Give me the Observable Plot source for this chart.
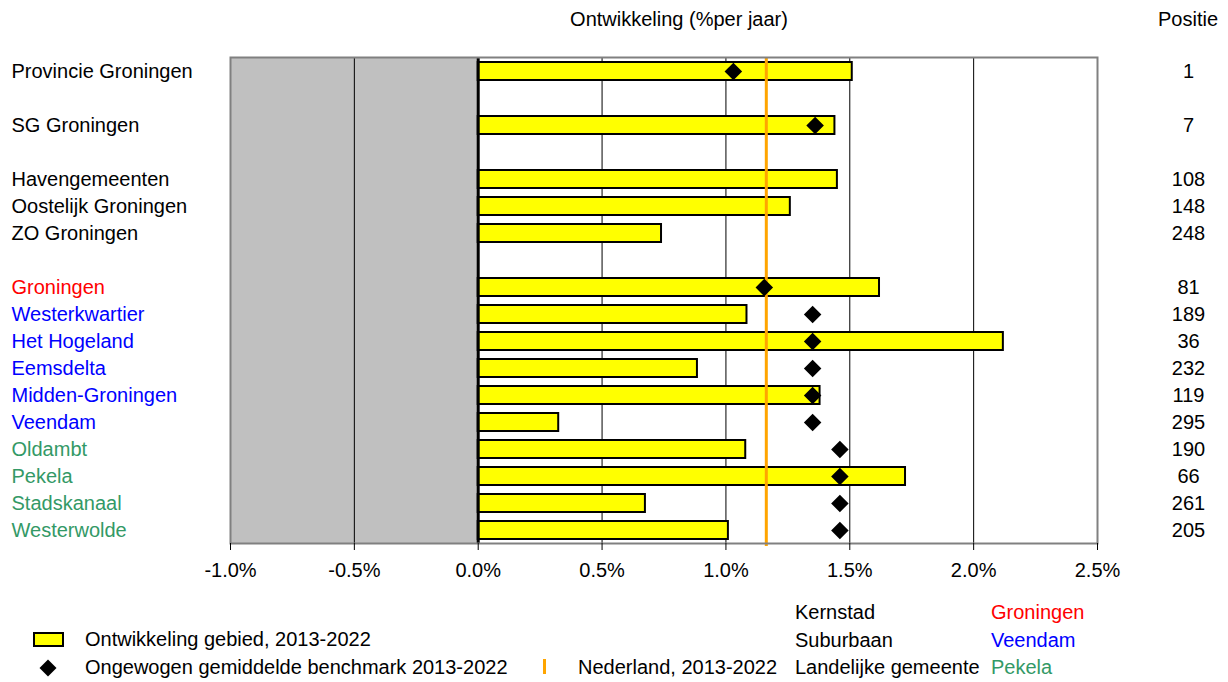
<!DOCTYPE html>
<html>
<head>
<meta charset="utf-8">
<script src="https://cdn.jsdelivr.net/npm/d3@7"></script>
<script src="https://cdn.jsdelivr.net/npm/@observablehq/plot@0.6"></script>
<style>
  html, body { margin: 0; padding: 0; background: #fff; }
  body { font-family: "Liberation Sans", Arial, sans-serif; font-size: 20px; color: #000; }
  #wrap { position: relative; width: 1228px; height: 682px; overflow: hidden; }
  .t { position: absolute; white-space: nowrap; line-height: 20px; }
  #chart { position: absolute; left: 0; top: 0; }
</style>
</head>
<body>
<div id="wrap">
  <div id="chart"></div>
</div>
<script>
// ---- data ----
const names = ["Provincie Groningen", "SG Groningen", "Havengemeenten", "Oostelijk Groningen", "ZO Groningen",
  "Groningen", "Westerkwartier", "Het Hogeland", "Eemsdelta", "Midden-Groningen", "Veendam",
  "Oldambt", "Pekela", "Stadskanaal", "Westerwolde"];
const groups = ["gebied", "gebied", "gebied", "gebied", "gebied",
  "kernstad", "suburbaan", "suburbaan", "suburbaan", "suburbaan", "suburbaan",
  "landelijk", "landelijk", "landelijk", "landelijk"];
const growth = [1.51, 1.44, 1.45, 1.26, 0.74, 1.62, 1.085, 2.12, 0.885, 1.38, 0.325, 1.08, 1.725, 0.675, 1.01];
const benchmark = [1.03, 1.36, null, null, null, 1.155, 1.35, 1.35, 1.35, 1.35, 1.35, 1.46, 1.46, 1.46, 1.46];
const positie = [1, 7, 108, 148, 248, 81, 189, 36, 232, 119, 295, 190, 66, 261, 205];
const nederland = 1.163;
// row order including empty separator rows
const slots = ["Provincie Groningen", "gap1", "SG Groningen", "gap2", "Havengemeenten", "Oostelijk Groningen", "ZO Groningen", "gap3",
  "Groningen", "Westerkwartier", "Het Hogeland", "Eemsdelta", "Midden-Groningen", "Veendam",
  "Oldambt", "Pekela", "Stadskanaal", "Westerwolde"];
const xTicks = [-1.0, -0.5, 0.0, 0.5, 1.0, 1.5, 2.0, 2.5];
const gridLines = [-0.5, 0.5, 1.0, 1.5, 2.0];
const groupColors = {gebied: "#000000", kernstad: "#ff0000", suburbaan: "#0000ff", landelijk: "#339966"};
const titleText = "Ontwikkeling (%per jaar)";
const posHeader = "Positie";
const legendSeries = ["Ontwikkeling gebied, 2013-2022", "Ongewogen gemiddelde benchmark 2013-2022", "Nederland, 2013-2022"];
const legendTypes = ["Kernstad", "Suburbaan", "Landelijke gemeente"];
const legendExamples = ["Groningen", "Veendam", "Pekela"];
const legendExampleColors = ["#ff0000", "#0000ff", "#339966"];

const rows = names.map((n, i) => ({name: n, group: groups[i], color: groupColors[groups[i]], growth: growth[i], bench: benchmark[i], pos: positie[i]}));

const font = "Liberation Sans, Arial, sans-serif";

const chart = Plot.plot({
  width: 1228,
  height: 600,
  marginTop: 57,
  marginBottom: 57,
  marginLeft: 230,
  marginRight: 131,
  style: {fontFamily: font, fontSize: "20px", background: "white", color: "black"},
  x: {domain: [-1, 2.5]},
  y: {domain: slots, paddingInner: 0.35, paddingOuter: 0.175, axis: null},
  color: {type: "identity"},
  marks: [
    Plot.rect([{a: -1, b: 0}], {x1: "a", x2: "b", fill: "#c0c0c0"}),
    Plot.ruleX(gridLines, {stroke: "black", strokeWidth: 1}),
    Plot.barX(rows, {x1: 0, x2: "growth", y: "name", fill: "#ffff00", stroke: "black", strokeWidth: 2}),
    Plot.ruleX([0], {stroke: "black", strokeWidth: 3}),
    Plot.ruleX([nederland], {stroke: "#ffa500", strokeWidth: 3, insetBottom: -3}),
    Plot.dot(rows.filter(d => d.bench != null), {x: "bench", y: "name", symbol: "diamond2", r: 7.9, fill: "black", stroke: "none"}),
    Plot.frame({stroke: "#808080", strokeWidth: 2}),
    Plot.axisX({ticks: xTicks, tickFormat: d => d.toFixed(1).replace("\u2212", "-") + "%", tickSize: 7, tickPadding: 12, fontSize: 20, label: null, stroke: "black", strokeWidth: 1}),
    Plot.text(rows, {y: "name", text: "name", fill: "color", frameAnchor: "left", textAnchor: "start", dx: -219, fontSize: 20}),
    Plot.text(rows, {y: "name", text: d => String(d.pos), frameAnchor: "right", textAnchor: "middle", dx: 91, fontSize: 20, fill: "black"})
  ]
});
document.getElementById("chart").appendChild(chart);

// ---- titles and legend (HTML) ----
const wrap = document.getElementById("wrap");
function addText(txt, left, cy, color, center) {
  const d = document.createElement("div");
  d.className = "t";
  d.textContent = txt;
  d.style.left = left + "px";
  d.style.top = (cy - 11) + "px";
  if (color) d.style.color = color;
  if (center) d.style.transform = "translateX(-50%)";
  wrap.appendChild(d);
  return d;
}
addText(titleText, 679, 20, null, true);
addText(posHeader, 1188, 20, null, true);

// legend swatch: bar
const sw = document.createElement("div");
Object.assign(sw.style, {position: "absolute", left: "33px", top: "632px", width: "31px", height: "15px", background: "#ffff00", border: "2px solid black", boxSizing: "border-box"});
wrap.appendChild(sw);
addText(legendSeries[0], 85, 640);
// legend swatch: diamond
const dm = document.createElement("div");
Object.assign(dm.style, {position: "absolute", left: "42px", top: "662px", width: "12px", height: "12px", background: "black", transform: "rotate(45deg)"});
wrap.appendChild(dm);
addText(legendSeries[1], 85, 668);
// legend swatch: orange line
const ol = document.createElement("div");
Object.assign(ol.style, {position: "absolute", left: "543px", top: "659px", width: "3px", height: "15px", background: "#ffa500"});
wrap.appendChild(ol);
addText(legendSeries[2], 578, 668);

legendTypes.forEach((t, i) => addText(t, 795, 613 + i * 27.5));
legendExamples.forEach((t, i) => addText(t, 991, 613 + i * 27.5, legendExampleColors[i]));
</script>
</body>
</html>
